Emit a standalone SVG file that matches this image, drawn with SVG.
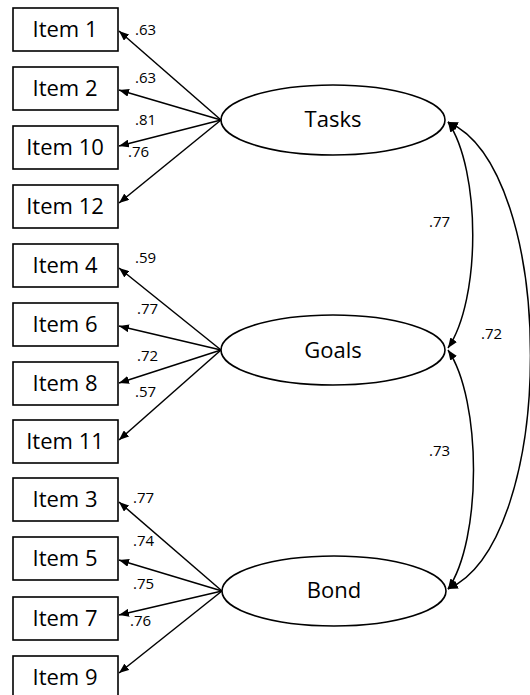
<svg xmlns="http://www.w3.org/2000/svg" width="530" height="695" viewBox="0 0 530 695">
<style>
.box{fill:#fff;stroke:#000;stroke-width:1.6}
.lat{fill:#fff;stroke:#000;stroke-width:1.6}
.t{font-family:"Open Sans","Liberation Sans",sans-serif;font-size:22px;fill:#000;text-anchor:middle}
.lt{font-family:"Open Sans","Liberation Sans",sans-serif;font-size:22px;fill:#000;text-anchor:middle}
.n{font-family:"Open Sans","Liberation Sans",sans-serif;font-size:15px;fill:#000}
.c{fill:none;stroke:#000;stroke-width:1.5}
</style>
<defs>
<marker id="ah" viewBox="0 0 10 8" refX="10" refY="4" markerWidth="10" markerHeight="8" orient="auto-start-reverse" markerUnits="userSpaceOnUse">
<path d="M0,0 L10,4 L0,8 z" fill="#000"/>
</marker>
</defs>
<rect width="530" height="695" fill="#fff"/>
<g id="connectors">
<line class="c" x1="221" y1="120" x2="119" y2="31" marker-end="url(#ah)"/>
<line class="c" x1="221" y1="120" x2="119" y2="90" marker-end="url(#ah)"/>
<line class="c" x1="221" y1="120" x2="119" y2="146" marker-end="url(#ah)"/>
<line class="c" x1="221" y1="120" x2="119" y2="203" marker-end="url(#ah)"/>
<line class="c" x1="221" y1="350" x2="119" y2="268" marker-end="url(#ah)"/>
<line class="c" x1="221" y1="350" x2="119" y2="326" marker-end="url(#ah)"/>
<line class="c" x1="221" y1="350" x2="119" y2="383" marker-end="url(#ah)"/>
<line class="c" x1="221" y1="350" x2="119" y2="440" marker-end="url(#ah)"/>
<line class="c" x1="222" y1="591" x2="119" y2="502" marker-end="url(#ah)"/>
<line class="c" x1="222" y1="591" x2="119" y2="560" marker-end="url(#ah)"/>
<line class="c" x1="222" y1="591" x2="119" y2="615" marker-end="url(#ah)"/>
<line class="c" x1="222" y1="591" x2="119" y2="673" marker-end="url(#ah)"/>
<path class="c" d="M448,122 C481,170 481,300 448,348" marker-start="url(#ah)" marker-end="url(#ah)"/>
<path class="c" d="M448,350 C482,400 482,540 448,589" marker-start="url(#ah)" marker-end="url(#ah)"/>
<path class="c" d="M448,122 C558,170 558,540 448,589" marker-start="url(#ah)" marker-end="url(#ah)"/>
<text class="n" x="135" y="35">.63</text>
<text class="n" x="135" y="83">.63</text>
<text class="n" x="135" y="125">.81</text>
<text class="n" x="128" y="157">.76</text>
<text class="n" x="135" y="263">.59</text>
<text class="n" x="137" y="314">.77</text>
<text class="n" x="137" y="361">.72</text>
<text class="n" x="135" y="397">.57</text>
<text class="n" x="133" y="503">.77</text>
<text class="n" x="133" y="546">.74</text>
<text class="n" x="133" y="589">.75</text>
<text class="n" x="130" y="626">.76</text>
<text class="n" x="429" y="227">.77</text>
<text class="n" x="481" y="339">.72</text>
<text class="n" x="429" y="456">.73</text>
</g>
<g id="item1"><rect class="box" x="13" y="8" width="105" height="43"/><text class="t" x="65" y="37">Item 1</text></g>
<g id="item2"><rect class="box" x="13" y="67" width="105" height="43"/><text class="t" x="65" y="96">Item 2</text></g>
<g id="item10"><rect class="box" x="13" y="126" width="105" height="43"/><text class="t" x="65" y="155">Item 10</text></g>
<g id="item12"><rect class="box" x="13" y="185" width="105" height="43"/><text class="t" x="65" y="214">Item 12</text></g>
<g id="item4"><rect class="box" x="13" y="244" width="105" height="43"/><text class="t" x="65" y="273">Item 4</text></g>
<g id="item6"><rect class="box" x="13" y="303" width="105" height="43"/><text class="t" x="65" y="332">Item 6</text></g>
<g id="item8"><rect class="box" x="13" y="362" width="105" height="43"/><text class="t" x="65" y="391">Item 8</text></g>
<g id="item11"><rect class="box" x="13" y="420" width="105" height="43"/><text class="t" x="65" y="449">Item 11</text></g>
<g id="item3"><rect class="box" x="13" y="478" width="105" height="43"/><text class="t" x="65" y="507">Item 3</text></g>
<g id="item5"><rect class="box" x="13" y="537" width="105" height="43"/><text class="t" x="65" y="566">Item 5</text></g>
<g id="item7"><rect class="box" x="13" y="597" width="105" height="43"/><text class="t" x="65" y="626">Item 7</text></g>
<g id="item9"><rect class="box" x="13" y="656" width="105" height="43"/><text class="t" x="65" y="685">Item 9</text></g>
<g id="tasks"><ellipse class="lat" cx="333" cy="120" rx="112" ry="35"/><text class="lt" x="333" y="127">Tasks</text></g>
<g id="goals"><ellipse class="lat" cx="333" cy="350" rx="112" ry="35"/><text class="lt" x="333" y="358">Goals</text></g>
<g id="bond"><ellipse class="lat" cx="334" cy="591" rx="112" ry="35"/><text class="lt" x="334" y="598">Bond</text></g>
</svg>
